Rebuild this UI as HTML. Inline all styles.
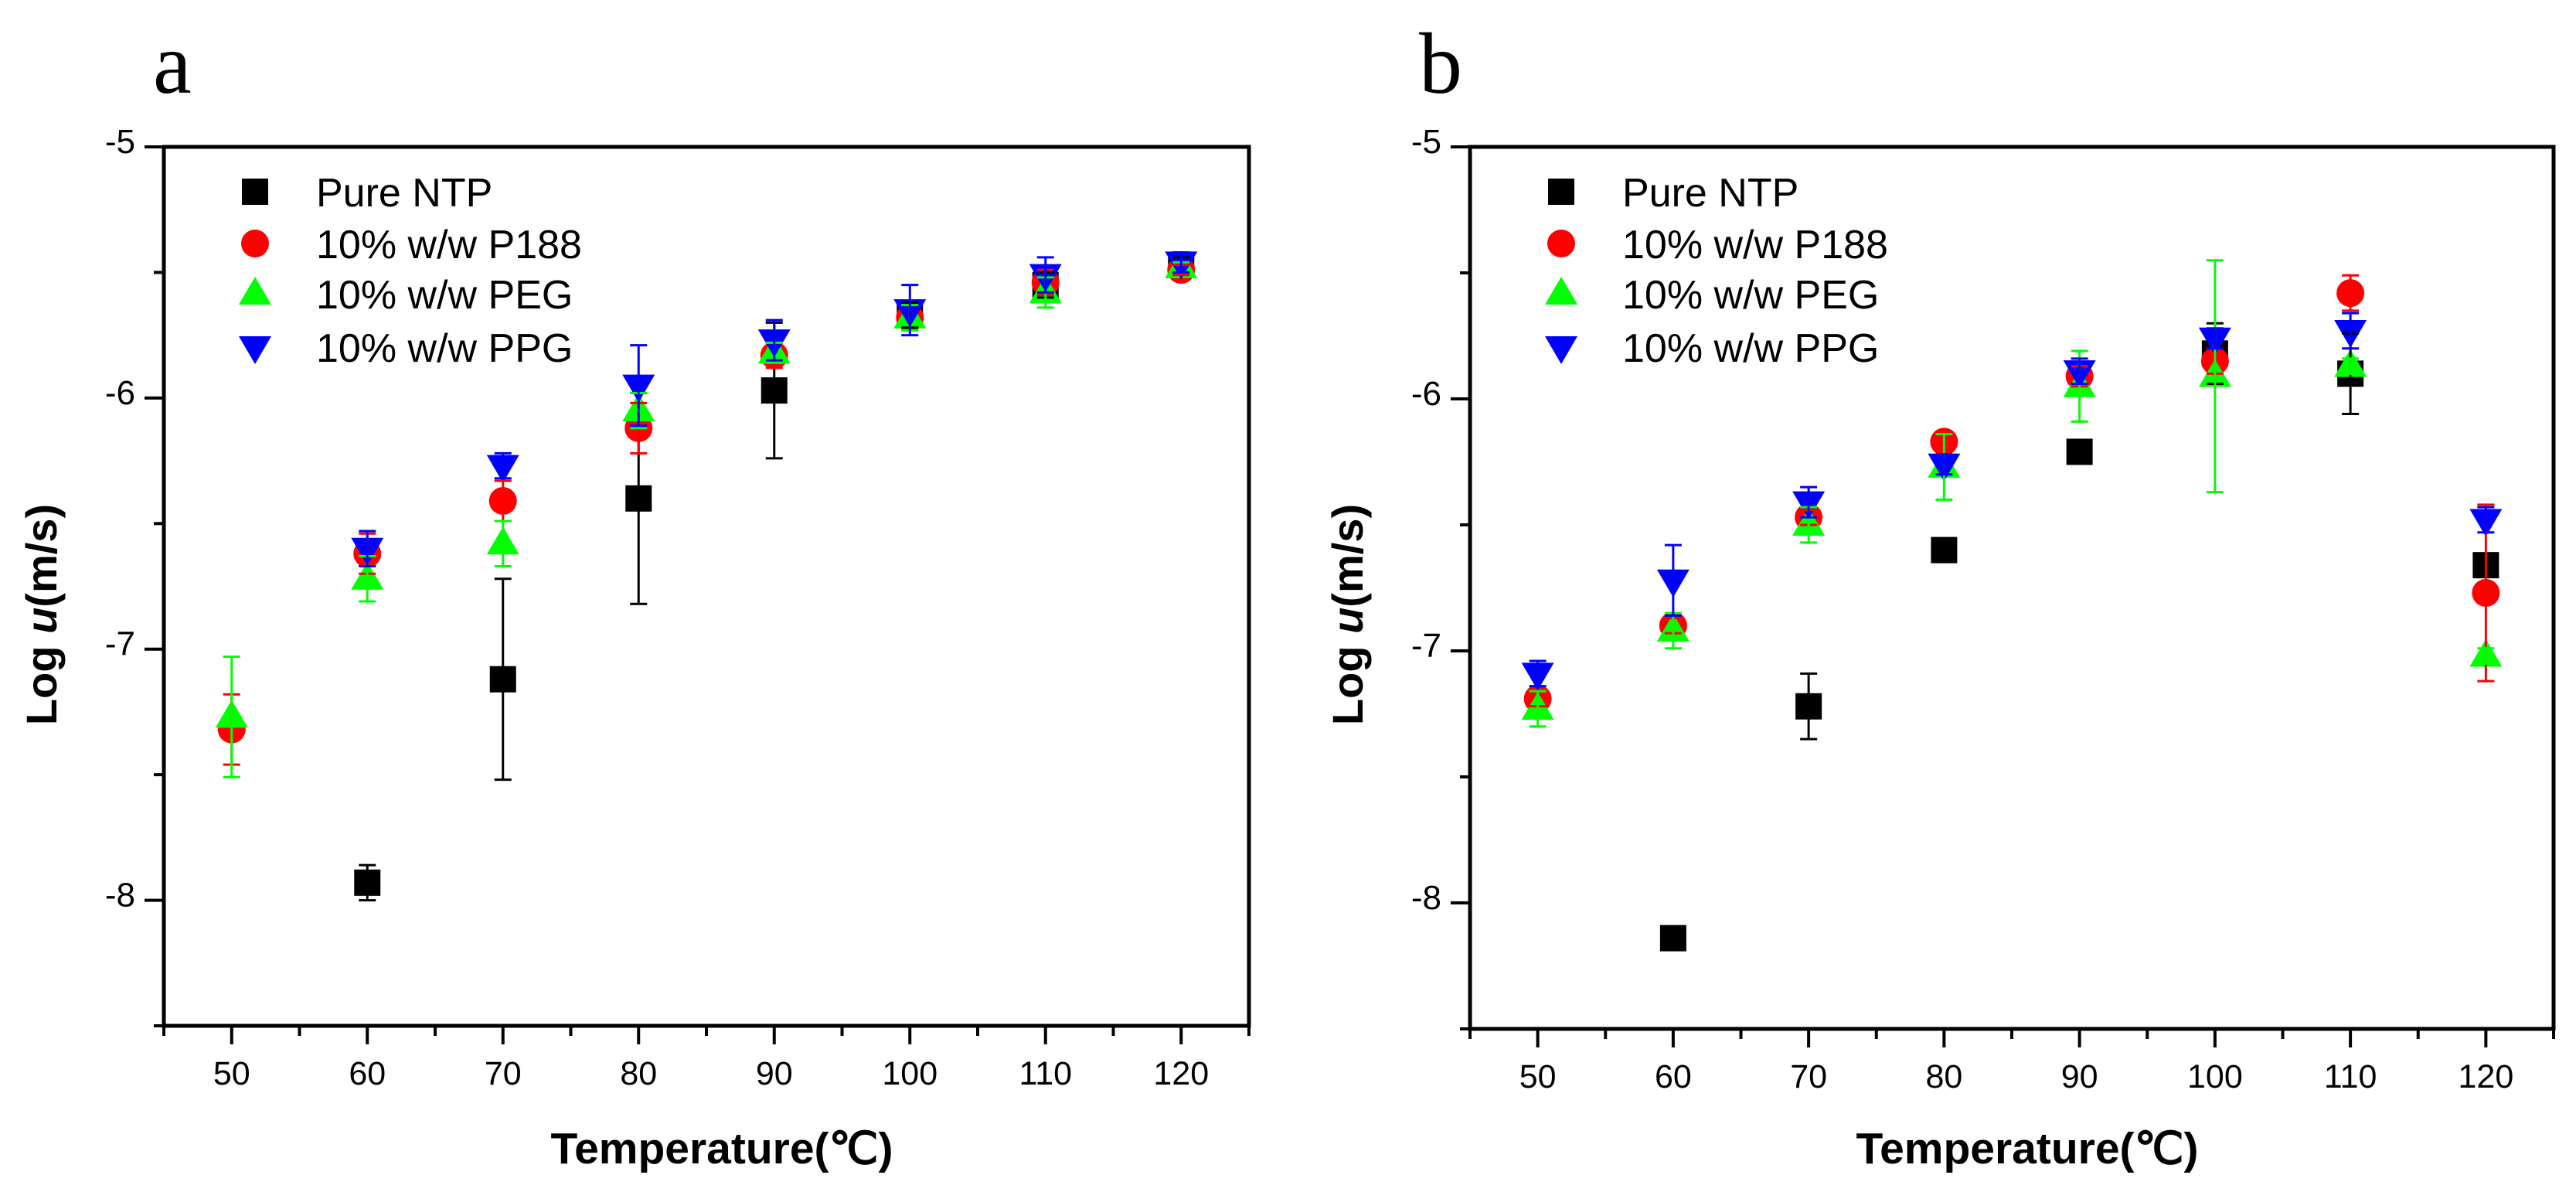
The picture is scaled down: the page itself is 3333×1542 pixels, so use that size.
<!DOCTYPE html>
<html><head><meta charset="utf-8"><style>
html,body{margin:0;padding:0;background:#fff}
svg{display:block}
text{font-family:"Liberation Sans",Arial,sans-serif}
</style></head><body>
<svg id="fig" width="3333" height="1542" viewBox="0 0 3333 1542" xmlns="http://www.w3.org/2000/svg"></svg>
<script>
// ---- data ----
const temps = [50,60,70,80,90,100,110,120];
const xTicks = [50,60,70,80,90,100,110,120];
const yTicks = [-5,-6,-7,-8];
const seriesNames = ["Pure NTP","10% w/w P188","10% w/w PEG","10% w/w PPG"];
// panel a (null = no point)
const aNTP  = [null,-7.93,-7.12,-6.40,-5.97,-5.67,-5.55,-5.47];
const aNTPe = [0,0.07,0.40,0.42,0.27,0.05,0.05,0.03];
const aP188 = [-7.32,-6.62,-6.41,-6.12,-5.83,-5.68,-5.54,-5.49];
const aP188e= [0.14,0.08,0.08,0.10,0.05,0.05,0.05,0.02];
const aPEG  = [-7.27,-6.72,-6.58,-6.05,-5.82,-5.68,-5.58,-5.48];
const aPEGe = [0.24,0.09,0.09,0.07,0.04,0.05,0.06,0.02];
const aPPG  = [null,-6.60,-6.27,-5.95,-5.77,-5.65,-5.51,-5.46];
const aPPGe = [0,0.07,0.05,0.16,0.08,0.10,0.07,0.04];
// panel b
const bNTP  = [null,-8.14,-7.22,-6.60,-6.21,-5.82,-5.90,-6.66];
const bNTPe = [0,0.02,0.13,0.02,0.02,0.12,0.16,0.02];
const bP188 = [-7.19,-6.90,-6.47,-6.17,-5.91,-5.85,-5.58,-6.77];
const bP188e= [0.03,0.03,0.03,0.04,0.04,0.05,0.07,0.35];
const bPEG  = [-7.23,-6.92,-6.50,-6.27,-5.95,-5.91,-5.87,-7.02];
const bPEGe = [0.07,0.07,0.07,0.13,0.14,0.46,0.03,0.03];
const bPPG  = [-7.09,-6.72,-6.41,-6.26,-5.89,-5.76,-5.73,-6.48];
const bPPGe = [0.05,0.14,0.06,0.04,0.05,0.04,0.07,0.05];

const NS="http://www.w3.org/2000/svg";
const svg=document.getElementById('fig');
function el(tag,attrs,parent){const e=document.createElementNS(NS,tag);for(const k in attrs)e.setAttribute(k,attrs[k]);(parent||svg).appendChild(e);return e;}
const colors=["#000000","#ff0000","#00ff00","#0000ff"];
const shapes=["square","circle","up","down"];

function marker(g,shape,cx,cy,color){
  let m;
  if(shape==="square") m=el('rect',{x:cx-17,y:cy-17,width:34,height:34,fill:color},g);
  else if(shape==="circle") m=el('circle',{cx:cx,cy:cy,r:18,fill:color},g);
  else if(shape==="up") m=el('polygon',{points:`${cx-21},${cy+14} ${cx+21},${cy+14} ${cx},${cy-22}`,fill:color},g);
  else m=el('polygon',{points:`${cx-21},${cy-14} ${cx+21},${cy-14} ${cx},${cy+22}`,fill:color},g);
  return m;
}

function panel(p){
  const g=el('g',{});
  
  
  const X=v=>p.L+(v-45)/80*(p.R-p.L);
  const Y=v=>p.T+(-5-v)/3.5*(p.B-p.T);
  const fr=el('rect',{x:p.L,y:p.T,width:p.R-p.L,height:p.B-p.T,fill:'none',stroke:'#000','stroke-width':5},g);
  
  
  for(let v=45;v<=125;v+=5){
    const major=(v%10===0);
    const t=el('line',{x1:X(v),x2:X(v),y1:p.B,y2:p.B+(major?24:13),stroke:'#000','stroke-width':4},g);
    
    
  }
  xTicks.forEach(v=>{
    const t=el('text',{x:X(v),y:p.B+76,'font-size':43,'text-anchor':'middle'},g);
    t.textContent=v;
    
    
  });
  for(let v=-5;v>=-8.5;v-=0.5){
    const major=(Math.abs(v-Math.round(v))<1e-9);
    const t=el('line',{x1:p.L-(major?25:13),x2:p.L,y1:Y(v),y2:Y(v),stroke:'#000','stroke-width':4},g);
    
    
  }
  yTicks.forEach(v=>{
    const t=el('text',{x:p.L-37,y:Y(v)+8,'font-size':44,'text-anchor':'end'},g);
    t.textContent=String(v);
    
    
  });
  const xt=el('text',{x:(p.L+p.R)/2+20,y:1505,'font-size':57,'font-weight':'bold','text-anchor':'middle'},g);
  xt.textContent='Temperature(℃)';
  
  
  const yt=el('text',{x:0,y:0,'font-size':56,'font-weight':'bold','text-anchor':'middle',transform:`translate(${p.L-139},${795}) rotate(-90)`},g);
  yt.innerHTML='Log <tspan font-style="italic">u</tspan>(m/s)';
  
  
  const pl=el('text',{x:p.letterX,y:120,'font-size':112,style:'font-family:"Liberation Serif",serif'},g);
  pl.textContent=p.letter;
  
  
  seriesNames.forEach((n,i)=>{
    const ly=[248,315,380,449][i];
    const m=marker(g,shapes[i],p.L+118,ly,colors[i]);
    
    
    const t=el('text',{x:p.L+197,y:ly+19,'font-size':52},g);
    t.textContent=n;
    
    
  });
  p.vals.forEach((arr,si)=>{
    arr.forEach((v,i)=>{
      if(v===null) return;
      const m=marker(g,shapes[si],X(temps[i]),Y(v),colors[si]);
      
      
    });
  });
  p.vals.forEach((arr,si)=>{
    arr.forEach((v,i)=>{
      if(v===null) return;
      const e=p.errs[si][i]; if(!e) return;
      const x=X(temps[i]);
      const eg=el('g',{stroke:colors[si],'stroke-width':3},g);
      
      
      el('line',{x1:x,x2:x,y1:Y(v+e),y2:Y(v-e)},eg);
      el('line',{x1:x-11,x2:x+11,y1:Y(v+e),y2:Y(v+e)},eg);
      el('line',{x1:x-11,x2:x+11,y1:Y(v-e),y2:Y(v-e)},eg);
    });
  });
}
panel({name:'panel-a',letter:'a',letterX:198,L:212,R:1616,T:190,B:1327,
  vals:[aNTP,aP188,aPEG,aPPG],errs:[aNTPe,aP188e,aPEGe,aPPGe]});
panel({name:'panel-b',letter:'b',letterX:1836,L:1902,R:3304,T:190,B:1331,
  vals:[bNTP,bP188,bPEG,bPPG],errs:[bNTPe,bP188e,bPEGe,bPPGe]});
</script>
</body></html>
